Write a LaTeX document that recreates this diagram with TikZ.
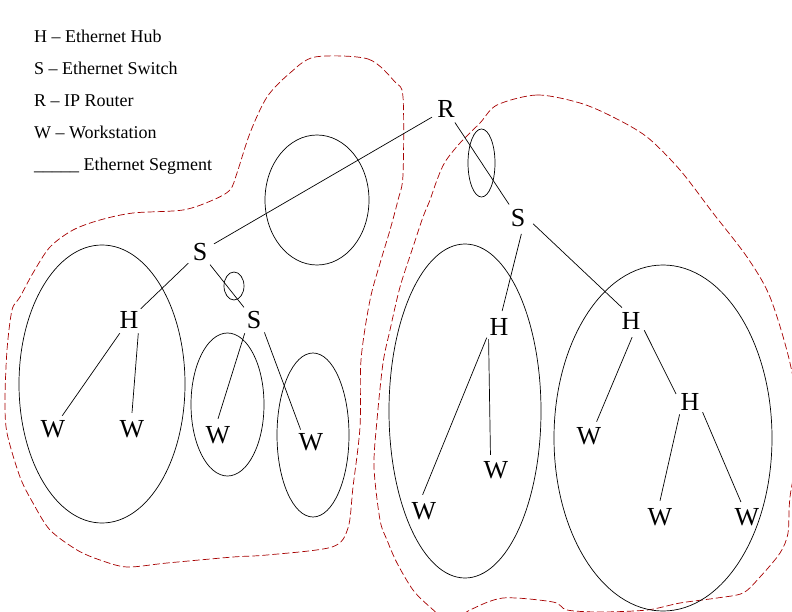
\documentclass[tikz,border=0pt]{standalone}
\usepackage{fontspec}
\setmainfont{Liberation Serif}
\begin{document}
\begin{tikzpicture}[x=1pt,y=-1pt,
  dev/.style={circle,inner sep=0pt,minimum size=32pt,font=\fontsize{26}{30}\selectfont},
  key/.style={anchor=base west,inner sep=0pt,font=\fontsize{18}{22}\selectfont},
  seg/.style={line width=0.7pt},
  area/.style={draw=red!65!black,line width=0.7pt,dash pattern=on 7pt off 3pt}]
\clip (0,0) rectangle (792,612);
\node[key] (kh) at (34,43) {H – Ethernet Hub};
\node[key] (ks) at (34,75) {S – Ethernet Switch};
\node[key] (kr) at (34,107) {R – IP Router};
\node[key] (kw) at (34,139) {W – Workstation};
\node[key] (ke) at (34,171) {\_\_\_\_\_ Ethernet Segment};
\draw[area] plot[smooth cycle] coordinates {(315,57) (368,59) (395,82) (403,97) (403,175) (398,200) (390,230) (381,260) (370,300) (361,360) (360,427) (353,487) (348,528) (332,547) (267,555) (233,557) (167,563) (127,567) (100,560) (77,550) (50,530) (33,503) (20,477) (7,433) (5,400) (7,350) (12,310) (20,297) (33,273) (50,247) (73,230) (100,220) (133,213) (183,210) (213,200) (230,190) (237,173) (250,133) (267,97) (290,73)};
\draw[area] plot[smooth cycle] coordinates {(497,105) (537,95) (580,103) (613,117) (647,137) (680,170) (713,213) (747,257) (770,297) (790,363) (800,430) (790,497) (788,533) (780,553) (760,577) (743,593) (717,598) (680,603) (647,610) (600,612) (567,610) (553,602) (503,598) (470,610) (450,622) (430,607) (413,590) (397,563) (387,540) (380,520) (374,467) (377,420) (383,363) (390,330) (400,287) (413,247) (423,217) (430,200) (437,180) (445,162) (460,143) (480,123)};
\draw[seg] (102,384) ellipse (83pt and 139pt);
\draw[seg] (317,200) ellipse (52pt and 65pt);
\draw[seg] (234,286) ellipse (10pt and 14pt);
\draw[seg] (227.5,404.5) ellipse (36.5pt and 71.5pt);
\draw[seg] (313,435) ellipse (36pt and 82pt);
\draw[seg] (481.5,163) ellipse (13.5pt and 34pt);
\draw[seg] (465,411) ellipse (76pt and 167pt);
\draw[seg] (663,438) ellipse (109pt and 173pt);
\node[dev] (r) at (446,109) {R};
\node[dev] (s1) at (200,252) {S};
\node[dev] (s2) at (254,320) {S};
\node[dev] (h1) at (129,320) {H};
\node[dev] (w1) at (53,429) {W};
\node[dev] (w2) at (132,429) {W};
\node[dev] (w3) at (218,435) {W};
\node[dev] (w4) at (311,442) {W};
\node[dev] (s3) at (518,218) {S};
\node[dev] (h2) at (499,327) {H};
\node[dev] (h3) at (631,321) {H};
\node[dev] (h4) at (690,402) {H};
\node[dev] (w5) at (424,511) {W};
\node[dev] (w6) at (496,470) {W};
\node[dev] (w7) at (589,436) {W};
\node[dev] (w8) at (660,517) {W};
\node[dev] (w9) at (747,517) {W};
\draw[seg] (r) -- (s1);
\draw[seg] (r) -- (s3);
\draw[seg] (s1) -- (h1);
\draw[seg] (s1) -- (s2);
\draw[seg] (h1) -- (w1);
\draw[seg] (h1.305) -- (w2.north);
\draw[seg] (s2.235) -- (w3.north);
\draw[seg] (s2.310) -- (w4.130);
\draw[seg] (s3.282) -- (h2.79);
\draw[seg] (s3.339) -- (h3.124);
\draw[seg] (h2.221) -- (w5.95);
\draw[seg] (h2.230) -- (w6.110);
\draw[seg] (h3.274) -- (w7.62);
\draw[seg] (h3.325) -- (h4.150);
\draw[seg] (h4.230) -- (w8.north);
\draw[seg] (h4.321) -- (w9.112);
\end{tikzpicture}
\end{document}
